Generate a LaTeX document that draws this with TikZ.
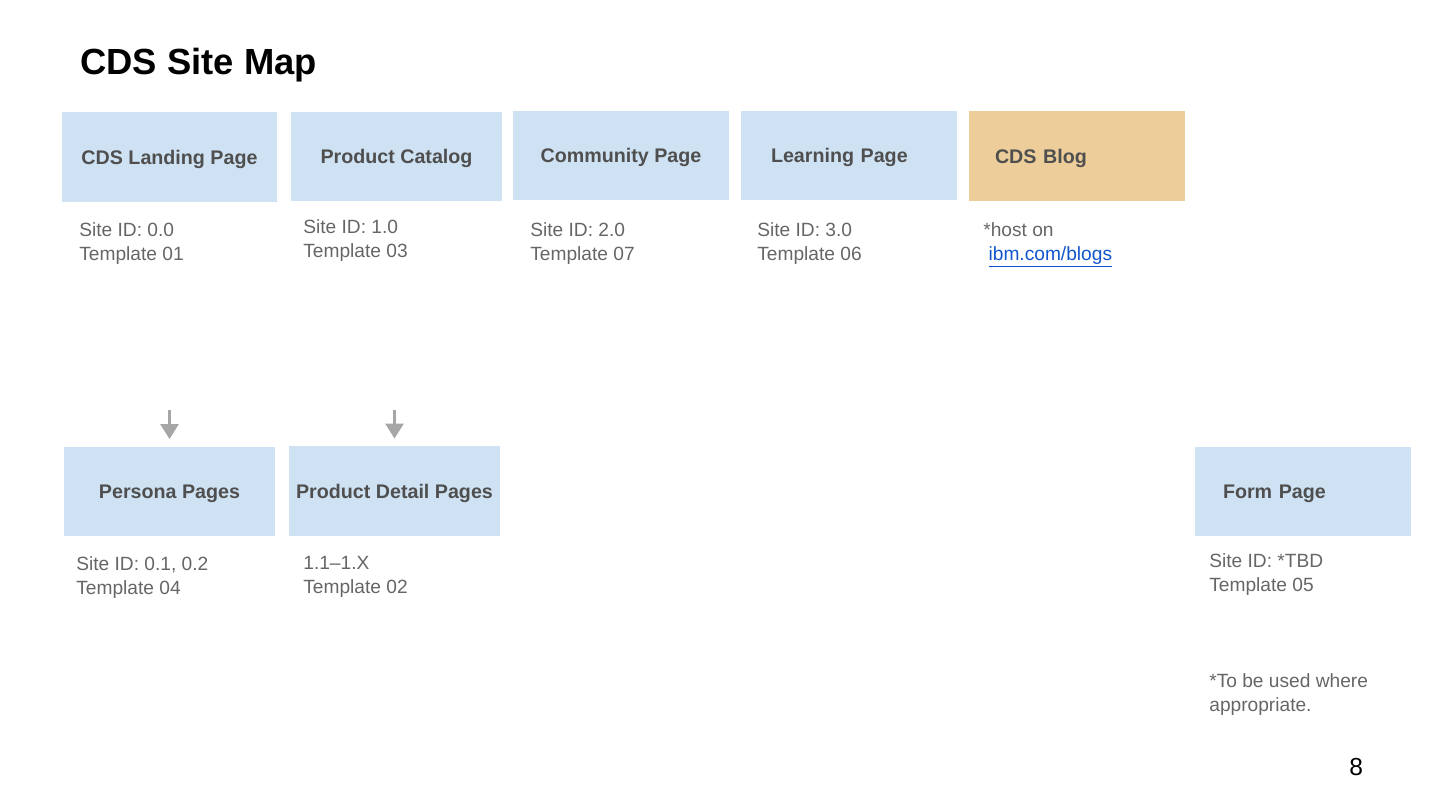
\documentclass[tikz,border=0pt]{standalone}
\usepackage{fontspec}
\setmainfont{Liberation Sans}
\usetikzlibrary{arrows.meta}
\definecolor{boxblue}{HTML}{CFE2F3}
\definecolor{blogtan}{HTML}{EDCE9B}
\definecolor{boxtxt}{HTML}{4F4F4F}
\definecolor{subtxt}{HTML}{666666}
\definecolor{linkblue}{HTML}{1155CC}
\definecolor{arrgray}{HTML}{A6A6A6}
\begin{document}
\begin{tikzpicture}[x=0.02cm,y=-0.02cm,>={Triangle[width=10pt,length=8.5pt]},
    page/.style={fill=boxblue,minimum width=4.32cm,minimum height=1.8cm,inner sep=0pt,
        text depth=0pt,text=boxtxt,font=\fontsize{11.2}{13.6}\selectfont\bfseries},
    narrow/.style={minimum width=4.22cm},
    info/.style={anchor=north west,inner sep=0pt,align=left,text=subtxt,
        font=\fontsize{10.9}{13.6}\selectfont},
    down/.style={->,arrgray,line width=2pt,shorten >=4pt}]
\useasboundingbox (0,0) rectangle (1440,810);
\node[anchor=base west,inner sep=0pt,font=\fontsize{20.7}{24}\selectfont\bfseries] (title) at (80,75) {CDS Site Map};
% top row
\node[page] (landing) at (169.5,157) {CDS Landing Page};
\node[page,narrow] (catalog) at (396.5,156.5) {Product Catalog};
\node[page] (community) at (621,155.5) {Community Page};
\node[page,inner xsep=0.6cm,text width=3.12cm,align=left] (learning) at (849,155.5) {Learning Page};
\node[page,fill=blogtan,inner xsep=0.52cm,text width=3.28cm,align=left] (blog) at (1077,156) {CDS Blog};
\node[info] (landing-id) at (79,222) {Site ID: 0.0\\Template 01};
\node[info] (catalog-id) at (303,219) {Site ID: 1.0\\Template 03};
\node[info] (community-id) at (530,222) {Site ID: 2.0\\Template 07};
\node[info] (learning-id) at (757,222) {Site ID: 3.0\\Template 06};
\node[info] (blog-id) at (983,222) {*host on\\\hspace*{3pt}\textcolor{linkblue}{\underline{ibm.com/blogs}}};
% bottom row
\node[page,narrow] (persona) at (169.5,491.5) {Persona Pages};
\node[page,narrow] (detail) at (394.5,491) {Product Detail Pages};
\node[page,inner xsep=0.56cm,text width=3.2cm,align=left] (form) at (1303,491.5) {Form Page};
\node[info] (persona-id) at (76,556) {Site ID: 0.1, 0.2\\Template 04};
\node[info] (detail-id) at (303,556) {1.1--1.X\\Template 02};
\node[info] (form-id) at (1209,553) {Site ID: *TBD\\Template 05};
\node[info] (note) at (1209,673) {*To be used where\\appropriate.};
\node[anchor=north west,inner sep=0pt,font=\fontsize{14}{16}\selectfont] (pageno) at (1349,758) {8};
\coordinate (persona-in) at (169.5,410);
\coordinate (detail-in) at (394.5,410);
\draw[down] (persona-in) -- (persona.north);
\draw[down] (detail-in) -- (detail.north);
\end{tikzpicture}
\end{document}
